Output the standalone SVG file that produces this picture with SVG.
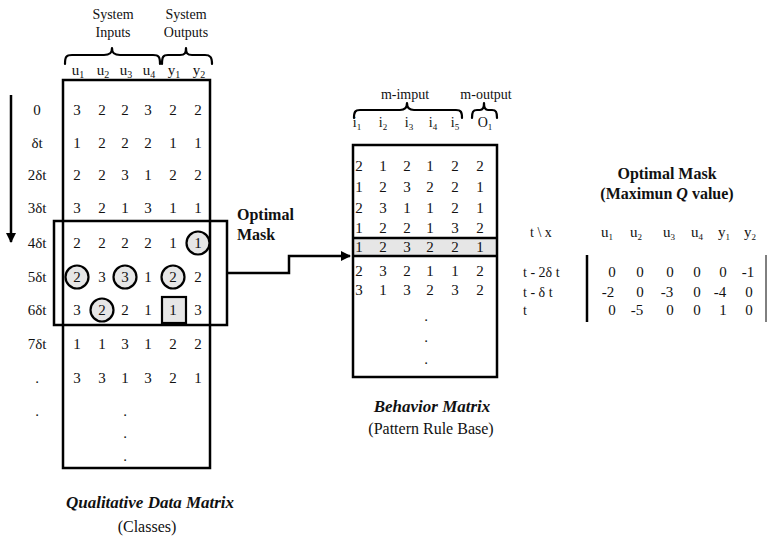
<svg xmlns="http://www.w3.org/2000/svg" width="768" height="540" viewBox="0 0 768 540">
  <style>
    text { font-family: "Liberation Serif", "Times New Roman", serif; fill: #111; }
    .v { font-size: 15px; text-anchor: middle; }
    .h { font-size: 15px; text-anchor: middle; }
    .s { font-size: 14px; text-anchor: middle; }
    .b { font-size: 16px; font-weight: bold; }
    .bi { font-size: 17px; font-weight: bold; font-style: italic; text-anchor: middle; }
    .cap { font-size: 16px; text-anchor: middle; }
    .box { fill: none; stroke: #000; stroke-width: 2.5; }
    .brace { fill: none; stroke: #000; stroke-width: 2.2; stroke-linejoin: round; stroke-linecap: round; }
    .mark { fill: #e6e6e6; stroke: #000; stroke-width: 2.2; }
    .line { fill: none; stroke: #000; stroke-width: 2.5; }
  </style>
  <defs>
    <marker id="arrow" viewBox="0 0 10 10" refX="9" refY="5" markerWidth="4" markerHeight="4" orient="auto" markerUnits="strokeWidth">
      <path d="M0,0 L10,5 L0,10 z" fill="#000"/>
    </marker>
  </defs>
  <rect width="768" height="540" fill="#fff"/>

  <!-- Qualitative data matrix -->
  <g id="data-matrix">
    <text class="s" x="113" y="19">System</text>
    <text class="s" x="113" y="37">Inputs</text>
    <text class="s" x="186" y="19">System</text>
    <text class="s" x="186" y="37">Outputs</text>
    <path class="brace" d="M65,64 C65,57 66,55 72,55 L104,55 C110,55 112,53 112,48 C112,53 114,55 120,55 L153,55 C159,55 160,57 160,64"/>
    <path class="brace" d="M162,64 C162,57 163,55 168,55 L180,55 C185,55 186,53 186,48 C186,53 187,55 192,55 L205,55 C210,55 212,57 212,64"/>
    <g class="h">
      <text x="78" y="75">u<tspan font-size="10" dy="3">1</tspan></text>
      <text x="103" y="75">u<tspan font-size="10" dy="3">2</tspan></text>
      <text x="126" y="75">u<tspan font-size="10" dy="3">3</tspan></text>
      <text x="149" y="75">u<tspan font-size="10" dy="3">4</tspan></text>
      <text x="174" y="75">y<tspan font-size="10" dy="3">1</tspan></text>
      <text x="199" y="75">y<tspan font-size="10" dy="3">2</tspan></text>
    </g>
    <rect class="box" x="63" y="80" width="147" height="388"/>

    <!-- time labels -->
    <g class="v">
      <text x="37" y="115">0</text>
      <text x="37" y="148">δt</text>
      <text x="37" y="180">2δt</text>
      <text x="37" y="213">3δt</text>
      <text x="37" y="248">4δt</text>
      <text x="37" y="282">5δt</text>
      <text x="37" y="315">6δt</text>
      <text x="37" y="349">7δt</text>
      <text x="37" y="383">.</text>
      <text x="37" y="416">.</text>
    </g>
    <line class="line" x1="11" y1="95" x2="11" y2="242" marker-end="url(#arrow)"/>

    <!-- highlighted cells -->
    <circle class="mark" cx="198" cy="243" r="11.5"/>
    <circle class="mark" cx="77" cy="277" r="11.5"/>
    <circle class="mark" cx="125" cy="277" r="11.5"/>
    <circle class="mark" cx="173" cy="277" r="11.5"/>
    <circle class="mark" cx="102" cy="310" r="11.5"/>
    <rect class="mark" x="162" y="297" width="24" height="26"/>

    <g class="v">
      <text y="115"><tspan x="77">3</tspan><tspan x="102">2</tspan><tspan x="125">2</tspan><tspan x="148">3</tspan><tspan x="173">2</tspan><tspan x="198">2</tspan></text>
      <text y="148"><tspan x="77">1</tspan><tspan x="102">2</tspan><tspan x="125">2</tspan><tspan x="148">2</tspan><tspan x="173">1</tspan><tspan x="198">1</tspan></text>
      <text y="180"><tspan x="77">2</tspan><tspan x="102">2</tspan><tspan x="125">3</tspan><tspan x="148">1</tspan><tspan x="173">2</tspan><tspan x="198">2</tspan></text>
      <text y="213"><tspan x="77">3</tspan><tspan x="102">2</tspan><tspan x="125">1</tspan><tspan x="148">3</tspan><tspan x="173">1</tspan><tspan x="198">1</tspan></text>
      <text y="248"><tspan x="77">2</tspan><tspan x="102">2</tspan><tspan x="125">2</tspan><tspan x="148">2</tspan><tspan x="173">1</tspan><tspan x="198">1</tspan></text>
      <text y="282"><tspan x="77">2</tspan><tspan x="102">3</tspan><tspan x="125">3</tspan><tspan x="148">1</tspan><tspan x="173">2</tspan><tspan x="198">2</tspan></text>
      <text y="315"><tspan x="77">3</tspan><tspan x="102">2</tspan><tspan x="125">2</tspan><tspan x="148">1</tspan><tspan x="173">1</tspan><tspan x="198">3</tspan></text>
      <text y="349"><tspan x="77">1</tspan><tspan x="102">1</tspan><tspan x="125">3</tspan><tspan x="148">1</tspan><tspan x="173">2</tspan><tspan x="198">2</tspan></text>
      <text y="383"><tspan x="77">3</tspan><tspan x="102">3</tspan><tspan x="125">1</tspan><tspan x="148">3</tspan><tspan x="173">2</tspan><tspan x="198">1</tspan></text>
      <text x="125" y="416">.</text>
      <text x="125" y="438">.</text>
      <text x="125" y="461">.</text>
    </g>

    <!-- optimal mask window -->
    <rect class="box" x="54" y="221" width="173" height="104"/>

    <text class="bi" x="150" y="508">Qualitative Data Matrix</text>
    <text class="cap" x="147" y="532">(Classes)</text>
  </g>

  <g id="mask-label">
    <text class="b" x="237" y="220">Optimal</text>
    <text class="b" x="237" y="240">Mask</text>
  </g>

  <!-- behavior matrix -->
  <g id="behavior-matrix">
    <text class="s" x="405" y="99">m-imput</text>
    <text class="s" x="486" y="99">m-output</text>
    <path class="brace" d="M354,118 C354,112 355,110 360,110 L400,110 C405,110 407,108 407,103 C407,108 409,110 414,110 L456,110 C461,110 462,112 462,118"/>
    <path class="brace" d="M472,118 C472,112 473,110 477,110 L480,110 C483,110 484,108 484,103 C484,108 485,110 488,110 L492,110 C496,110 497,112 497,118"/>
    <g class="s">
      <text x="357" y="127">i<tspan font-size="9" dy="3">1</tspan></text>
      <text x="383" y="127">i<tspan font-size="9" dy="3">2</tspan></text>
      <text x="409" y="127">i<tspan font-size="9" dy="3">3</tspan></text>
      <text x="433" y="127">i<tspan font-size="9" dy="3">4</tspan></text>
      <text x="455" y="127">i<tspan font-size="9" dy="3">5</tspan></text>
      <text x="485" y="127">O<tspan font-size="9" dy="3">1</tspan></text>
    </g>
    <rect x="353" y="238" width="144" height="18" fill="#e6e6e6"/>
    <rect class="box" x="353" y="145" width="144" height="232"/>
    <line class="line" x1="353" y1="238" x2="497" y2="238"/>
    <line class="line" x1="353" y1="256" x2="497" y2="256"/>
    <g class="v">
      <text y="171"><tspan x="359">2</tspan><tspan x="383">1</tspan><tspan x="407">2</tspan><tspan x="430">1</tspan><tspan x="455">2</tspan><tspan x="480">2</tspan></text>
      <text y="192"><tspan x="359">1</tspan><tspan x="383">2</tspan><tspan x="407">3</tspan><tspan x="430">2</tspan><tspan x="455">2</tspan><tspan x="480">1</tspan></text>
      <text y="213"><tspan x="359">2</tspan><tspan x="383">3</tspan><tspan x="407">1</tspan><tspan x="430">1</tspan><tspan x="455">2</tspan><tspan x="480">1</tspan></text>
      <text y="233"><tspan x="359">1</tspan><tspan x="383">2</tspan><tspan x="407">2</tspan><tspan x="430">1</tspan><tspan x="455">3</tspan><tspan x="480">2</tspan></text>
      <text y="252"><tspan x="359">1</tspan><tspan x="383">2</tspan><tspan x="407">3</tspan><tspan x="430">2</tspan><tspan x="455">2</tspan><tspan x="480">1</tspan></text>
      <text y="276"><tspan x="359">2</tspan><tspan x="383">3</tspan><tspan x="407">2</tspan><tspan x="430">1</tspan><tspan x="455">1</tspan><tspan x="480">2</tspan></text>
      <text y="295"><tspan x="359">3</tspan><tspan x="383">1</tspan><tspan x="407">3</tspan><tspan x="430">2</tspan><tspan x="455">3</tspan><tspan x="480">2</tspan></text>
      <text x="426" y="321">.</text>
      <text x="426" y="342">.</text>
      <text x="426" y="364">.</text>
    </g>
    <text class="bi" x="432" y="412">Behavior Matrix</text>
    <text class="cap" x="431" y="434">(Pattern Rule Base)</text>
  </g>

  <!-- optimal mask table -->
  <g id="mask-table">
    <text class="b" x="667" y="179" text-anchor="middle" font-size="17">Optimal Mask</text>
    <text class="b" x="667" y="199" text-anchor="middle" font-size="17">(Maximun <tspan font-style="italic">Q</tspan> value)</text>
    <text x="530" y="237" font-size="14">t \ x</text>
    <g class="h" font-size="14">
      <text x="607" y="237">u<tspan font-size="9" dy="3">1</tspan></text>
      <text x="636" y="237">u<tspan font-size="9" dy="3">2</tspan></text>
      <text x="669" y="237">u<tspan font-size="9" dy="3">3</tspan></text>
      <text x="697" y="237">u<tspan font-size="9" dy="3">4</tspan></text>
      <text x="724" y="237">y<tspan font-size="9" dy="3">1</tspan></text>
      <text x="750" y="237">y<tspan font-size="9" dy="3">2</tspan></text>
    </g>
    <g font-size="14">
      <text x="523" y="277">t  - 2δ t</text>
      <text x="523" y="297">t  - δ t</text>
      <text x="523" y="315">t</text>
    </g>
    <line class="line" x1="587" y1="255" x2="587" y2="322"/>
    <line x1="766" y1="255" x2="766" y2="322" stroke="#000" stroke-width="1"/>
    <g class="v" font-size="14">
      <text y="277"><tspan x="612">0</tspan><tspan x="640">0</tspan><tspan x="670">0</tspan><tspan x="697">0</tspan><tspan x="723">0</tspan><tspan x="748">-1</tspan></text>
      <text y="297"><tspan x="608">-2</tspan><tspan x="640">0</tspan><tspan x="667">-3</tspan><tspan x="697">0</tspan><tspan x="720">-4</tspan><tspan x="749">0</tspan></text>
      <text y="315"><tspan x="612">0</tspan><tspan x="637">-5</tspan><tspan x="670">0</tspan><tspan x="697">0</tspan><tspan x="723">1</tspan><tspan x="749">0</tspan></text>
    </g>
  </g>

  <!-- connector from mask window to behavior matrix -->
  <g id="connectors">
    <path class="line" d="M227,273 H289 V256 H350" marker-end="url(#arrow)"/>
  </g>
</svg>
